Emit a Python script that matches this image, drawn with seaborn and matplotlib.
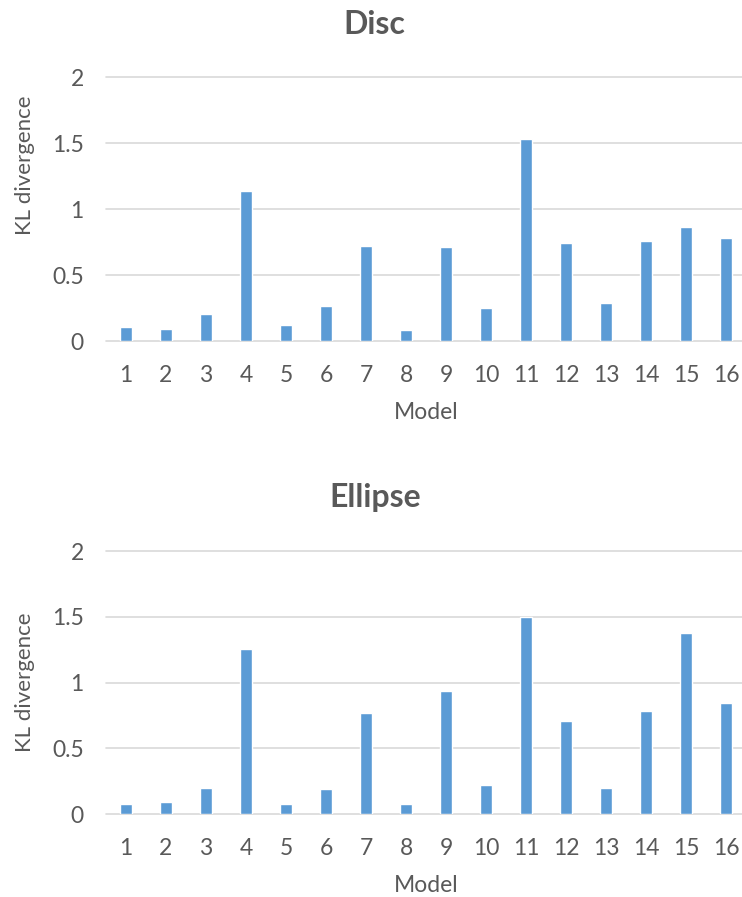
import matplotlib
matplotlib.use("Agg")
import matplotlib.pyplot as plt
import seaborn as sns
import pandas as pd

models = [str(i) for i in range(1, 17)]
disc_kl = [0.104, 0.094, 0.202, 1.133, 0.119, 0.263, 0.723, 0.081,
           0.711, 0.250, 1.530, 0.746, 0.286, 0.759, 0.867, 0.781]
ellipse_kl = [0.076, 0.089, 0.198, 1.256, 0.076, 0.188, 0.769, 0.076,
              0.939, 0.223, 1.500, 0.708, 0.198, 0.782, 1.376, 0.843]
y_ticks = [0, 0.5, 1, 1.5, 2]
y_tick_labels = ["0", "0.5", "1", "1.5", "2"]

sns.set_theme(style="white")
plt.rcParams["font.family"] = ["Lato", "DejaVu Sans"]

TEXT = "#595959"
GRID = "#D9D9D9"
BAR = "#5B9BD5"

W, H = 742, 897
fig = plt.figure(figsize=(W / 100, H / 100), dpi=100)

panels = [
    ("Disc", disc_kl, 77, 341, 25, 165, 412),
    ("Ellipse", ellipse_kl, 551, 814, 497, 682, 885),
]

for title, values, y_top, y_zero, title_y, ylab_y, xlab_y in panels:
    left, right = 106, 746
    ax = fig.add_axes([left / W, 1 - y_zero / H, (right - left) / W, (y_zero - y_top) / H])
    df = pd.DataFrame({"Model": models, "KL": values})
    sns.barplot(data=df, x="Model", y="KL", color=BAR, saturation=1,
                width=0.3, ax=ax, zorder=3)
    ax.set_xlim(-0.5, 15.5)
    ax.set_ylim(0, 2)
    ax.set_yticks(y_ticks)
    ax.set_yticklabels(y_tick_labels)
    for yv in y_ticks:
        ax.axhline(yv, color=GRID, lw=1.2, zorder=1, clip_on=False)
    for s in ["top", "right", "left", "bottom"]:
        ax.spines[s].set_visible(False)
    ax.tick_params(axis="both", length=0, labelsize=16.5, colors=TEXT)
    ax.tick_params(axis="y", pad=16)
    ax.tick_params(axis="x", pad=17)
    ax.set_xlabel("")
    ax.set_ylabel("")
    fig.text(0.505, 1 - title_y / H, title, ha="center", va="center",
             fontsize=23, fontweight="bold", color=TEXT)
    fig.text(25 / W, 1 - ylab_y / H, "KL divergence", ha="center", va="center",
             rotation=90, fontsize=16, color=TEXT)
    fig.text(426 / W, 1 - xlab_y / H, "Model", ha="center", va="center",
             fontsize=16.5, color=TEXT)

fig.savefig("out.png", dpi=100, facecolor="white")
